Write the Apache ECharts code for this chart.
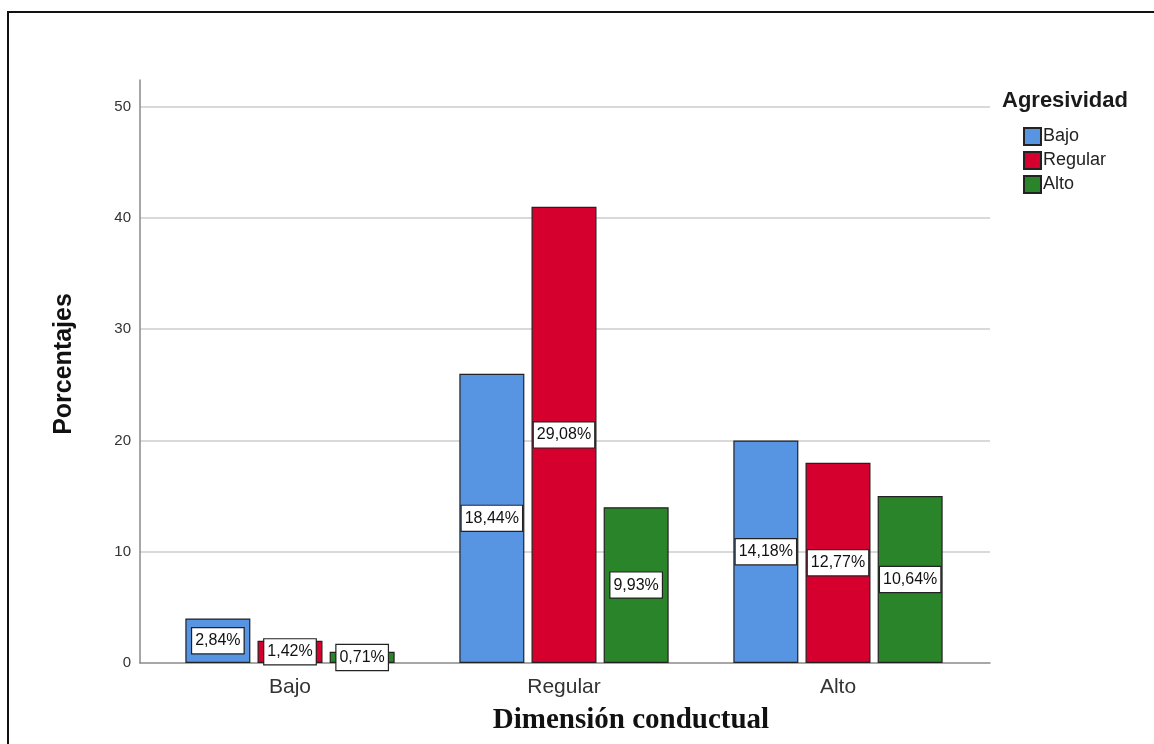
<!DOCTYPE html>
<html>
<head>
<meta charset="utf-8">
<style>
  html, body { margin: 0; padding: 0; background: #ffffff; }
  #chart { width: 1154px; height: 744px; }
</style>
<script src="https://cdn.jsdelivr.net/npm/echarts@6/dist/echarts.min.js"></script>
</head>
<body>
<div id="chart"></div>
<script>
// Dimensión conductual (x categories) by level of Agresividad (series)
const categories = ['Bajo', 'Regular', 'Alto'];
const seriesNames = ['Bajo', 'Regular', 'Alto'];
// counts per cell; labels show each count as a share of all cases
const bajoValues = [4, 26, 20];
const regularValues = [2, 41, 18];
const altoValues = [1, 14, 15];
const yTicks = [0, 10, 20, 30, 40, 50];

const seriesValues = [bajoValues, regularValues, altoValues];
const seriesColors = ['#5795e2', '#d6002f', '#2a852a'];
const total = seriesValues.flat().reduce((a, b) => a + b, 0);

const SANS = '"Liberation Sans", Arial, sans-serif';
const SERIF = '"Liberation Serif", "Times New Roman", serif';

const yMax = 52.4;
const plotTop = 80, plotBottom = 81;

const chart = echarts.init(document.getElementById('chart'), null, { renderer: 'canvas' });

const pctLabel = p => (p.value / total * 100).toFixed(2).replace('.', ',') + '%';

const option = {
  backgroundColor: '#ffffff',
  animation: false,
  title: {
    text: 'Agresividad',
    left: 997,
    top: 85,
    textStyle: { fontFamily: SANS, fontWeight: 'bold', fontSize: 22, color: '#1a1a1a' }
  },
  legend: {
    data: seriesNames,
    orient: 'vertical',
    left: 1018,
    top: 122,
    itemWidth: 17,
    itemHeight: 17,
    itemGap: 5,
    icon: 'rect',
    textStyle: { fontFamily: SANS, fontSize: 18, lineHeight: 17, color: '#222', padding: [0, 0, 0, -3] }
  },
  grid: [
    { left: 140, width: 850, top: plotTop, bottom: plotBottom },
    { left: 153, width: 822, top: plotTop, bottom: plotBottom }
  ],
  xAxis: [
    {
      gridIndex: 0, type: 'category', data: ['', '', ''],
      axisLine: { show: true, lineStyle: { color: '#8a8a8a', width: 1.5 } },
      axisTick: { show: false }, axisLabel: { show: false }, splitLine: { show: false }
    },
    {
      gridIndex: 1, type: 'category', data: categories,
      axisLine: { show: false }, axisTick: { show: false },
      axisLabel: { fontFamily: SANS, fontSize: 21, color: '#333', margin: 14 }
    }
  ],
  yAxis: [
    {
      gridIndex: 0, type: 'value', min: yTicks[0], max: yMax, interval: 10,
      axisLine: { show: true, lineStyle: { color: '#8a8a8a', width: 1.5 } },
      axisTick: { show: false },
      axisLabel: {
        fontFamily: SANS, fontSize: 15, color: '#333', margin: 9,
        showMaxLabel: false,
        formatter: v => (yTicks.includes(v) ? String(v) : '')
      },
      splitLine: { show: true, showMinLine: false, showMaxLine: false, lineStyle: { color: '#d9d9d9', width: 2 } }
    },
    {
      gridIndex: 1, type: 'value', min: yTicks[0], max: yMax, interval: 10,
      show: false, splitLine: { show: false }
    }
  ],
  series: seriesNames.map((name, i) => ({
    name,
    type: 'bar',
    xAxisIndex: 1,
    yAxisIndex: 1,
    data: seriesValues[i],
    barWidth: 65,
    barGap: '11%',
    itemStyle: { color: seriesColors[i], borderColor: '#222', borderWidth: 1.2 },
    label: {
      show: true,
      position: 'inside',
      formatter: pctLabel,
      fontFamily: SANS,
      fontSize: 16,
      color: '#111',
      backgroundColor: '#ffffff',
      borderColor: '#222',
      borderWidth: 1.2,
      padding: [5, 3, 4, 3]
    }
  })),
  graphic: [
    // page frame
    { type: 'line', silent: true, shape: { x1: 7, y1: 12, x2: 1154, y2: 12 }, style: { stroke: '#111', lineWidth: 2 } },
    { type: 'line', silent: true, shape: { x1: 8, y1: 11, x2: 8, y2: 744 }, style: { stroke: '#111', lineWidth: 2 } },
    // axis titles
    {
      type: 'text', silent: true, x: 64, y: 364, rotation: Math.PI / 2,
      style: { text: 'Porcentajes', font: 'bold 25px ' + SANS, fill: '#111', textAlign: 'center', textVerticalAlign: 'middle' }
    },
    {
      type: 'text', silent: true, x: 631, y: 721,
      style: { text: 'Dimensión conductual', font: 'bold 29px ' + SERIF, fill: '#111', textAlign: 'center', textVerticalAlign: 'middle' }
    }
  ]
};

chart.setOption(option);
</script>
</body>
</html>
